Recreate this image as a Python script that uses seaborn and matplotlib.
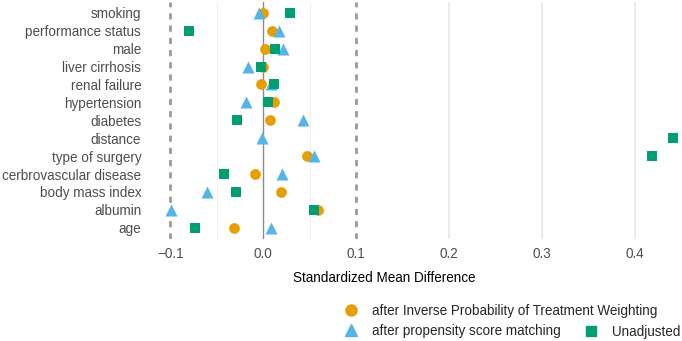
import matplotlib.pyplot as plt
import numpy as np
import pandas as pd
import seaborn as sns
from matplotlib.lines import Line2D

covariates = ['smoking', 'performance status', 'male', 'liver cirrhosis',
              'renal failure', 'hypertension', 'diabetes', 'distance',
              'type of surgery', 'cerbrovascular disease', 'body mass index',
              'albumin', 'age']
smd_iptw = [0.000, 0.009, 0.002, 0.000, -0.002, 0.011, 0.0075, np.nan,
            0.047, -0.009, 0.019, 0.059, -0.031]
smd_psm = [-0.005, 0.017, 0.021, -0.016, 0.008, -0.019, 0.043, -0.001,
           0.054, 0.020, -0.061, -0.099, 0.008]
smd_unadj = [0.029, -0.080, 0.0125, -0.0025, 0.011, 0.005, -0.028, 0.441,
             0.418, -0.042, -0.029, 0.054, -0.0735]
methods = ['after Inverse Probability of Treatment Weighting',
           'after propensity score matching', 'Unadjusted']

df = pd.DataFrame({'covariate': covariates, methods[0]: smd_iptw,
                   methods[1]: smd_psm, methods[2]: smd_unadj})
df = df.melt(id_vars='covariate', var_name='method', value_name='smd')
df['row'] = df['covariate'].map({c: i for i, c in enumerate(covariates)})

sns.set_theme(style='white')
plt.rcParams['font.family'] = ['Liberation Sans', 'DejaVu Sans']

colors = {methods[0]: '#E69F00', methods[1]: '#56B4E9', methods[2]: '#009E73'}
markers = {methods[0]: 'o', methods[1]: '^', methods[2]: 's'}
sizes = {methods[0]: 60, methods[1]: 75, methods[2]: 45}
fs = 9.75

fig = plt.figure(figsize=(6.82, 3.41), dpi=100)
ax = fig.add_axes([146 / 682, 1 - 238.5 / 341, 536 / 682, 236.5 / 341])

for x in [0.2, 0.3, 0.4]:
    ax.axvline(x, color='#E6E6E6', lw=1.1, zorder=0)
for x in [-0.05, 0.05]:
    ax.axvline(x, color='#F0F0F0', lw=0.7, zorder=0)
ax.axvline(0, color='#8C8C8C', lw=1.0, zorder=1)
for x in [-0.1, 0.1]:
    ax.axvline(x, color='#9A9A9A', lw=2.0, ls=(0, (2.2, 2.2)), zorder=1)

for m in methods:
    sns.scatterplot(data=df[df['method'] == m], x='smd', y='row',
                    color=colors[m], marker=markers[m], s=sizes[m],
                    linewidth=0, legend=False, zorder=3, ax=ax)

ax.set_xlim(-0.1261, 0.4502)
ax.set_ylim(len(covariates) - 1 + 0.6, -0.6)
ax.set_yticks(range(len(covariates)))
ax.set_yticklabels(covariates)
ax.set_xticks([-0.1, 0.0, 0.1, 0.2, 0.3, 0.4])
ax.set_xticklabels(['\u22120.1', '0.0', '0.1', '0.2', '0.3', '0.4'])
ax.tick_params(axis='both', length=0, labelsize=fs, colors='#4D4D4D', pad=3.5)
ax.tick_params(axis='x', pad=6)
ax.set_xlabel('Standardized Mean Difference', fontsize=fs, color='black')
ax.xaxis.set_label_coords((384 - 146) / 536, -(278 - 238.5) / 236.5)
ax.xaxis.label.set_va('center')
ax.set_ylabel('')
sns.despine(ax=ax, left=True, bottom=True)

handles = [Line2D([], [], ls='none', marker=markers[m], color=colors[m],
                  markersize=8 if m != methods[2] else 7) for m in methods]
fig.legend(handles[:2], methods[:2], loc='upper left',
           bbox_to_anchor=(337 / 682, 1 - 297 / 341), frameon=False,
           fontsize=fs, handlelength=1.0, handletextpad=1.05,
           borderpad=0, labelspacing=0.45)
fig.legend(handles[2:], methods[2:], loc='upper left',
           bbox_to_anchor=(577.5 / 682, 1 - 318 / 341), frameon=False,
           fontsize=fs, handlelength=1.0, handletextpad=1.05, borderpad=0)

fig.savefig('out.png', dpi=100)
